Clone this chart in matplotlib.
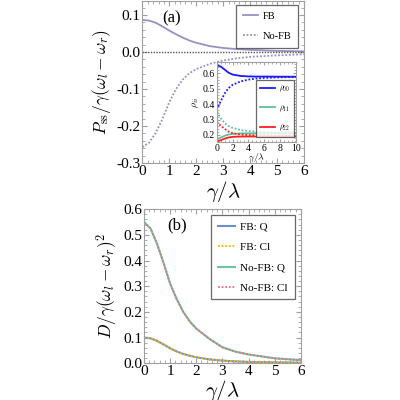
import numpy as np
import matplotlib
matplotlib.use("Agg")
import matplotlib.pyplot as plt
from matplotlib.ticker import MultipleLocator, FormatStrFormatter

plt.rcParams["font.family"] = ["Liberation Serif", "DejaVu Serif"]
plt.rcParams["mathtext.fontset"] = "cm"

# Panel (a): steady-state polarisation
x_a = [0, 0.25, 0.5, 0.75, 1, 1.25, 1.5, 1.75, 2, 2.5, 3, 3.5, 4, 5, 6]
p_fb = [0.087, 0.085, 0.079, 0.069, 0.058, 0.048, 0.039, 0.031, 0.025,
        0.016, 0.011, 0.008, 0.006, 0.003, 0.002]
p_nofb = [-0.257, -0.245, -0.218, -0.18, -0.135, -0.1, -0.074, -0.057, -0.046,
          -0.032, -0.023, -0.017, -0.013, -0.009, -0.006]

# Inset: populations
x_in = [0, 0.5, 1, 1.5, 2, 3, 4, 5, 6, 8, 10]
r00_fb = [0.654, 0.645, 0.625, 0.605, 0.593, 0.584, 0.581, 0.58, 0.58, 0.579, 0.579]
r00_nofb = [0.362, 0.42, 0.47, 0.505, 0.526, 0.548, 0.56, 0.567, 0.571, 0.575, 0.577]
r11_fb = [0.172, 0.183, 0.195, 0.203, 0.207, 0.21, 0.211, 0.211, 0.211, 0.211, 0.211]
r11_nofb = [0.351, 0.31, 0.277, 0.258, 0.246, 0.233, 0.226, 0.222, 0.22, 0.218, 0.217]
r22_fb = [0.158, 0.166, 0.176, 0.184, 0.188, 0.19, 0.19, 0.19, 0.19, 0.19, 0.19]
r22_nofb = [0.286, 0.26, 0.24, 0.222, 0.212, 0.203, 0.2, 0.198, 0.197, 0.196, 0.196]

# Panel (b): diffusion
x_b = x_a
d_fb = [0.1, 0.097, 0.087, 0.073, 0.058, 0.046, 0.036, 0.029, 0.023,
        0.015, 0.01, 0.007, 0.005, 0.003, 0.002]
d_nofb = [0.55, 0.525, 0.465, 0.39, 0.31, 0.25, 0.2, 0.163, 0.135,
          0.095, 0.062, 0.045, 0.034, 0.019, 0.012]

purple = "#9a8fc4"
frame = "#a0a0a0"
dot = (0, (1, 1))


def style(ax, size=10):
    for s in ax.spines.values():
        s.set_color(frame)
        s.set_linewidth(0.8)
    ax.tick_params(which="both", direction="in", top=True, right=True,
                   color=frame, labelsize=size, pad=1.5)
    ax.tick_params(which="major", length=3.5)
    ax.tick_params(which="minor", length=2)


def box(leg):
    leg.get_frame().set_edgecolor("#444444")
    leg.get_frame().set_linewidth(0.9)


fig = plt.figure(figsize=(4, 4), dpi=100)

# ---- (a)
ax1 = fig.add_axes([0.356, 0.5925, 0.404, 0.405])
ax1.plot(x_a, p_fb, color=purple, lw=1.3, label="FB")
ax1.plot(x_a, p_nofb, color=purple, lw=1.3, ls=dot, label="No-FB")
ax1.axhline(0, color="#555555", lw=1.0, ls=dot)
ax1.set_xlim(0, 6)
ax1.set_ylim(-0.3, 0.138)
ax1.xaxis.set_major_locator(MultipleLocator(1))
ax1.xaxis.set_minor_locator(MultipleLocator(0.2))
ax1.yaxis.set_major_locator(MultipleLocator(0.1))
ax1.yaxis.set_minor_locator(MultipleLocator(0.02))
ax1.yaxis.set_major_formatter(FormatStrFormatter("%.1f"))
style(ax1, 11)
ax1.set_xlabel(r"$\gamma/\lambda$", fontsize=15, labelpad=1)
ax1.set_ylabel(r"$P_{\rm ss}/\gamma(\omega_l-\omega_r)$", fontsize=12.5, labelpad=2)
ax1.text(0.18, 0.895, "(a)", fontsize=12, ha="center", va="center",
         transform=ax1.transAxes)
leg = ax1.legend(loc="upper right", fontsize=7.5, frameon=True, fancybox=False,
                 handlelength=1.4, handletextpad=0.5, borderpad=0.65,
                 labelspacing=1.0, borderaxespad=0,
                 bbox_to_anchor=(0.965, 0.975))
box(leg)

# ---- inset
axi = fig.add_axes([0.542, 0.646, 0.197, 0.198])
axi.plot(x_in, r00_fb, color="#1a1aff", lw=1.3, label=r"$\rho_{00}$")
axi.plot(x_in, r11_fb, color="#5fbf98", lw=1.3, label=r"$\rho_{11}$")
axi.plot(x_in, r22_fb, color="#ff2020", lw=1.3, label=r"$\rho_{22}$")
axi.plot(x_in, r00_nofb, color="#1a1aff", lw=1.3, ls=dot)
axi.plot(x_in, r11_nofb, color="#5fbf98", lw=1.3, ls=dot)
axi.plot(x_in, r22_nofb, color="#ff2020", lw=1.3, ls=dot)
axi.set_xlim(0, 10)
axi.set_ylim(0.157, 0.672)
axi.xaxis.set_major_locator(MultipleLocator(2))
axi.xaxis.set_minor_locator(MultipleLocator(0.5))
axi.yaxis.set_major_locator(MultipleLocator(0.1))
axi.yaxis.set_minor_locator(MultipleLocator(0.02))
axi.yaxis.set_major_formatter(FormatStrFormatter("%.1f"))
style(axi, 7)
axi.tick_params(which="major", length=2.5)
axi.tick_params(which="minor", length=1.2)
axi.set_xlabel(r"$\gamma/\lambda$", fontsize=7, labelpad=-1)
axi.set_ylabel(r"$\rho_{ii}$", fontsize=7, labelpad=1)
legi = axi.legend(loc="upper right", fontsize=5.5, frameon=True, fancybox=False,
                  handlelength=2.0, handletextpad=0.5, borderpad=0.55,
                  labelspacing=1.2, borderaxespad=0,
                  bbox_to_anchor=(0.985, 0.78))
box(legi)

# ---- (b)
ax2 = fig.add_axes([0.36, 0.092, 0.392, 0.385])
ax2.plot(x_b, d_fb, color="#6f8fc8", lw=1.5, label="FB: Q")
ax2.plot(x_b, d_fb, color="#f5b800", lw=1.3, ls=dot, label="FB: Cl")
ax2.plot(x_b, d_nofb, color="#6cc4a0", lw=1.5, label="No-FB: Q")
ax2.plot(x_b, d_nofb, color="#e8707a", lw=1.3, ls=dot, label="No-FB: Cl")
ax2.set_xlim(0, 6)
ax2.set_ylim(0, 0.6)
ax2.xaxis.set_major_locator(MultipleLocator(1))
ax2.xaxis.set_minor_locator(MultipleLocator(0.2))
ax2.yaxis.set_major_locator(MultipleLocator(0.1))
ax2.yaxis.set_minor_locator(MultipleLocator(0.02))
ax2.yaxis.set_major_formatter(FormatStrFormatter("%.1f"))
style(ax2, 11)
ax2.set_xlabel(r"$\gamma/\lambda$", fontsize=15, labelpad=0)
ax2.set_ylabel(r"$D/\gamma(\omega_l-\omega_r)^2$", fontsize=12.5, labelpad=2)
ax2.text(0.21, 0.895, "(b)", fontsize=12, ha="center", va="center",
         transform=ax2.transAxes)
leg2 = ax2.legend(loc="upper right", fontsize=8, frameon=True, fancybox=False,
                  handlelength=1.5, handletextpad=0.5, borderpad=0.6,
                  labelspacing=0.95, borderaxespad=0,
                  bbox_to_anchor=(0.96, 0.96))
box(leg2)

fig.savefig("out.png", dpi=100)
